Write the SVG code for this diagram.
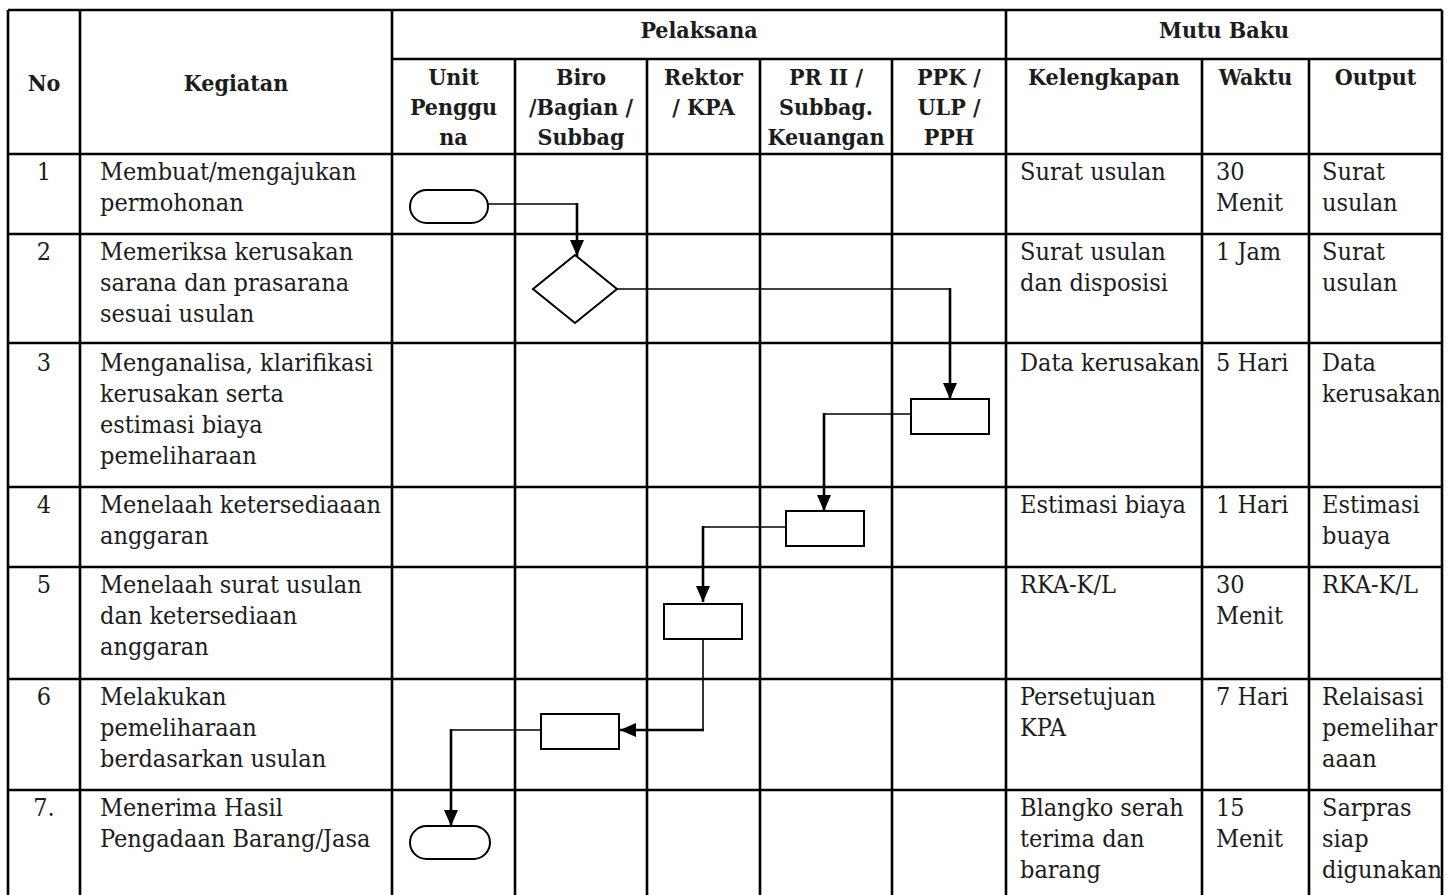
<svg xmlns="http://www.w3.org/2000/svg" width="1456" height="895" viewBox="0 0 1456 895">
  <style>
    .grid { fill: none; stroke: #000; stroke-width: 2.6; }
    .t { font-family: "DejaVu Serif Condensed", "DejaVu Serif", serif; font-stretch: condensed; font-size: 25px; fill: #1c1c1c; }
    .h { font-family: "DejaVu Serif Condensed", "DejaVu Serif", serif; font-stretch: condensed; font-size: 23px; font-weight: bold; fill: #1c1c1c; text-anchor: middle; }
    .c { text-anchor: middle; }
    .shape { fill: #fff; stroke: #000; stroke-width: 2; }
    .thin { fill: none; stroke: #000; stroke-width: 1.6; }
    .thick { fill: none; stroke: #000; stroke-width: 2.6; marker-end: url(#ah); }
  </style>
  <defs>
    <marker id="ah" viewBox="0 0 16 14" refX="16" refY="7" markerWidth="16" markerHeight="14" orient="auto" markerUnits="userSpaceOnUse">
      <path d="M0,0 L16,7 L0,14 Z" fill="#000"/>
    </marker>
  </defs>
  <rect width="1456" height="895" fill="#fff"/>

  <!-- table grid -->
  <g id="table-grid">
    <path class="grid" d="M8,10 H1442 M392,59 H1442 M8,154 H1442 M8,234 H1442 M8,343 H1442 M8,487 H1442 M8,567 H1442 M8,679 H1442 M8,790 H1442"/>
    <path class="grid" d="M8,10 V895 M80,10 V895 M392,10 V895 M1006,10 V895 M1442,10 V895 M515,59 V895 M647,59 V895 M760,59 V895 M892,59 V895 M1202,59 V895 M1309,59 V895"/>
  </g>

  <!-- header -->
  <g id="header">
    <text class="h" x="44" y="91">No</text>
    <text class="h" x="236" y="91">Kegiatan</text>
    <text class="h" x="699" y="38">Pelaksana</text>
    <text class="h" x="1224" y="38">Mutu Baku</text>
    <text class="h" y="85"><tspan x="453.5">Unit</tspan><tspan x="453.5" dy="30">Penggu</tspan><tspan x="453.5" dy="30">na</tspan></text>
    <text class="h" y="85"><tspan x="581">Biro</tspan><tspan x="581" dy="30">/Bagian /</tspan><tspan x="581" dy="30">Subbag</tspan></text>
    <text class="h" y="85"><tspan x="703.5">Rektor</tspan><tspan x="703.5" dy="30">/ KPA</tspan></text>
    <text class="h" y="85"><tspan x="826">PR II /</tspan><tspan x="826" dy="30">Subbag.</tspan><tspan x="826" dy="30">Keuangan</tspan></text>
    <text class="h" y="85"><tspan x="949">PPK /</tspan><tspan x="949" dy="30">ULP /</tspan><tspan x="949" dy="30">PPH</tspan></text>
    <text class="h" x="1104" y="85">Kelengkapan</text>
    <text class="h" x="1255.5" y="85">Waktu</text>
    <text class="h" x="1375.5" y="85">Output</text>
  </g>

  <!-- rows -->
  <g id="row-1">
    <text class="t c" x="44" y="180">1</text>
    <text class="t" y="180"><tspan x="100">Membuat/mengajukan</tspan><tspan x="100" dy="31">permohonan</tspan></text>
    <text class="t" x="1020" y="180">Surat usulan</text>
    <text class="t" y="180"><tspan x="1216">30</tspan><tspan x="1216" dy="31">Menit</tspan></text>
    <text class="t" y="180"><tspan x="1322">Surat</tspan><tspan x="1322" dy="31">usulan</tspan></text>
  </g>
  <g id="row-2">
    <text class="t c" x="44" y="260">2</text>
    <text class="t" y="260"><tspan x="100">Memeriksa kerusakan</tspan><tspan x="100" dy="31">sarana dan prasarana</tspan><tspan x="100" dy="31">sesuai usulan</tspan></text>
    <text class="t" y="260"><tspan x="1020">Surat usulan</tspan><tspan x="1020" dy="31">dan disposisi</tspan></text>
    <text class="t" x="1216" y="260">1 Jam</text>
    <text class="t" y="260"><tspan x="1322">Surat</tspan><tspan x="1322" dy="31">usulan</tspan></text>
  </g>
  <g id="row-3">
    <text class="t c" x="44" y="371">3</text>
    <text class="t" y="371"><tspan x="100">Menganalisa, klarifikasi</tspan><tspan x="100" dy="31">kerusakan serta</tspan><tspan x="100" dy="31">estimasi biaya</tspan><tspan x="100" dy="31">pemeliharaan</tspan></text>
    <text class="t" x="1020" y="371">Data kerusakan</text>
    <text class="t" x="1216" y="371">5 Hari</text>
    <text class="t" y="371"><tspan x="1322">Data</tspan><tspan x="1322" dy="31">kerusakan</tspan></text>
  </g>
  <g id="row-4">
    <text class="t c" x="44" y="513">4</text>
    <text class="t" y="513"><tspan x="100">Menelaah ketersediaaan</tspan><tspan x="100" dy="31">anggaran</tspan></text>
    <text class="t" x="1020" y="513">Estimasi biaya</text>
    <text class="t" x="1216" y="513">1 Hari</text>
    <text class="t" y="513"><tspan x="1322">Estimasi</tspan><tspan x="1322" dy="31">buaya</tspan></text>
  </g>
  <g id="row-5">
    <text class="t c" x="44" y="593">5</text>
    <text class="t" y="593"><tspan x="100">Menelaah surat usulan</tspan><tspan x="100" dy="31">dan ketersediaan</tspan><tspan x="100" dy="31">anggaran</tspan></text>
    <text class="t" x="1020" y="593">RKA-K/L</text>
    <text class="t" y="593"><tspan x="1216">30</tspan><tspan x="1216" dy="31">Menit</tspan></text>
    <text class="t" x="1322" y="593">RKA-K/L</text>
  </g>
  <g id="row-6">
    <text class="t c" x="44" y="705">6</text>
    <text class="t" y="705"><tspan x="100">Melakukan</tspan><tspan x="100" dy="31">pemeliharaan</tspan><tspan x="100" dy="31">berdasarkan usulan</tspan></text>
    <text class="t" y="705"><tspan x="1020">Persetujuan</tspan><tspan x="1020" dy="31">KPA</tspan></text>
    <text class="t" x="1216" y="705">7 Hari</text>
    <text class="t" y="705"><tspan x="1322">Relaisasi</tspan><tspan x="1322" dy="31">pemelihar</tspan><tspan x="1322" dy="31">aaan</tspan></text>
  </g>
  <g id="row-7">
    <text class="t c" x="44" y="816">7.</text>
    <text class="t" y="816"><tspan x="100">Menerima Hasil</tspan><tspan x="100" dy="31">Pengadaan Barang/Jasa</tspan></text>
    <text class="t" y="816"><tspan x="1020">Blangko serah</tspan><tspan x="1020" dy="31">terima dan</tspan><tspan x="1020" dy="31">barang</tspan></text>
    <text class="t" y="816"><tspan x="1216">15</tspan><tspan x="1216" dy="31">Menit</tspan></text>
    <text class="t" y="816"><tspan x="1322">Sarpras</tspan><tspan x="1322" dy="31">siap</tspan><tspan x="1322" dy="31">digunakan</tspan></text>
  </g>

  <!-- flow connectors -->
  <g id="connectors">
    <path class="thin" d="M488,204 H577"/>
    <path class="thick" d="M577,203 V256"/>
    <path class="thin" d="M617,289 H950"/>
    <path class="thick" d="M950,288 V399"/>
    <path class="thin" d="M911,414 H824"/>
    <path class="thick" d="M824,413 V511"/>
    <path class="thin" d="M786,527 H703"/>
    <path class="thick" d="M703,526 V602"/>
    <path class="thin" d="M703,639 V730"/>
    <path class="thick" d="M704,730 H620"/>
    <path class="thin" d="M541,730 H451"/>
    <path class="thick" d="M451,729 V826"/>
  </g>

  <!-- flow nodes -->
  <g id="start">
    <rect class="shape" x="410" y="190" width="78" height="33" rx="16.5"/>
  </g>
  <g id="check-decision">
    <path class="shape" d="M575,255 L617,289 L575,323 L533,289 Z"/>
  </g>
  <g id="analysis-ppk">
    <rect class="shape" x="911" y="399" width="78" height="35"/>
  </g>
  <g id="budget-review">
    <rect class="shape" x="786" y="511" width="78" height="35"/>
  </g>
  <g id="kpa-review">
    <rect class="shape" x="664" y="604" width="78" height="35"/>
  </g>
  <g id="maintenance">
    <rect class="shape" x="541" y="714" width="78" height="35"/>
  </g>
  <g id="end">
    <rect class="shape" x="410" y="826" width="80" height="33" rx="16.5"/>
  </g>
</svg>
